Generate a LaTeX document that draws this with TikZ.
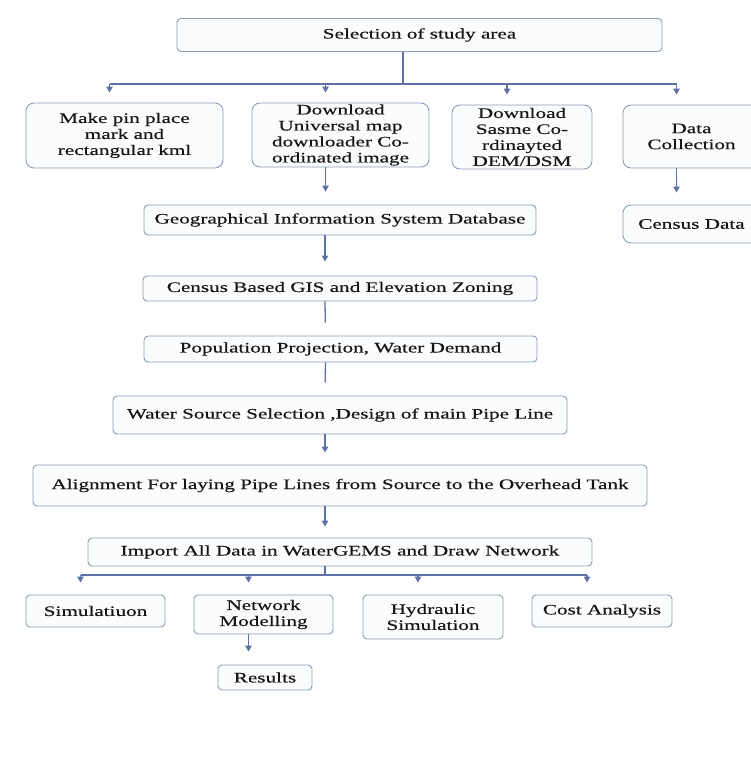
\documentclass[tikz,border=0pt]{standalone}
\usepackage{fontspec}
\setmainfont[FakeStretch=1.46, FakeBold=0.4]{Liberation Serif}
\usetikzlibrary{arrows.meta}

\definecolor{linkblue}{HTML}{5E72A8}
\definecolor{boxline}{HTML}{8D9CB6}
\definecolor{boxfill}{HTML}{FBFCFE}
\definecolor{boxtext}{HTML}{161616}
\def\off{-15pt}

\begin{document}
\begin{tikzpicture}[
		x=1pt, y=-1pt,
		stage/.style 2 args={draw=boxline, line width=0.9pt, fill=boxfill, rounded corners=4pt, text=boxtext, font=\fontsize{14.5}{16}\selectfont, align=center, inner sep=1pt, minimum width=#1, minimum height=#2},
		tallstage/.style 2 args={stage={#1}{#2}, rounded corners=8pt},
		link/.style={draw=linkblue, line width=1.3pt},
		flow/.style={link, -{Triangle[width=6.5pt,length=6pt]}, shorten >=#1},
		flow/.default=12pt,
	]
		\useasboundingbox (0,0) rectangle (750,770);

		\node (sel) [stage={485pt}{33pt}] at (419.5,35) {Selection of study area};

		\node (pin) [tallstage={197pt}{65pt}] at (124.5,135.5) {Make pin place\\mark and\\rectangular kml};
		\node (umd) [tallstage={177pt}{64pt}] at (340.5,135) {Download\\Universal map\\downloader Co-\\ordinated image};
		\node (dem) [tallstage={140pt}{64pt}] at (522,137) {Download\\Sasme Co-\\rdinayted\\DEM/DSM};
		\node (dat) [tallstage={137pt}{63pt}] at (691.5,136.5) {Data\\Collection};
		\node (cen) [tallstage={137pt}{38pt}] at (691.5,224) {Census Data};

		\node (gis) [stage={392pt}{30pt}] at (340,220) {Geographical Information System Database};
		\node (cgis) [stage={394pt}{25pt}] at (340,288.5) {Census Based GIS and Elevation Zoning};
		\node (pop) [stage={393pt}{26pt}] at (340.5,349) {Population Projection, Water Demand};
		\node (wss) [stage={454pt}{38pt}] at (340,415) {Water Source Selection ,Design of main Pipe Line};
		\node (aln) [stage={614pt}{41pt}] at (340,485.5) {Alignment For laying Pipe Lines from Source to the Overhead Tank};
		\node (imp) [stage={504pt}{28pt}] at (340,552) {Import All Data in WaterGEMS and Draw Network};

		\node (sim) [stage={139pt}{32pt}] at (95.5,611) {Simulatiuon};
		\node (net) [stage={139pt}{39pt}] at (263.5,614.5) {Network\\Modelling};
		\node (hyd) [stage={140pt}{44pt}] at (433,617) {Hydraulic\\Simulation};
		\node (cost) [stage={140pt}{32pt}] at (602,611) {Cost Analysis};
		\node (res) [stage={94pt}{25pt}] at (265,677.5) {Results};

		\coordinate (topbus) at ([xshift=-16.5pt]sel.south |- 0,84);
		\coordinate (lowbus) at ([xshift=\off]imp.south |- 0,575);

		\draw[link] ([xshift=-16.5pt]sel.south) -- (topbus);
		\draw[link] ([xshift=\off]pin.north |- topbus) -- ([xshift=\off]dat.north |- topbus);
		\foreach \n in {pin,umd,dem,dat}
			\draw[flow=10pt] ([xshift=\off]\n.north |- topbus) -- ([xshift=\off]\n.north);

		\draw[flow=13pt] ([xshift=\off]umd.south) -- ([xshift=\off]umd.south |- gis.north);
		\draw[flow] ([xshift=\off]dat.south) -- ([xshift=\off]cen.north);
		\draw[flow=14pt] ([xshift=\off]gis.south) -- ([xshift=\off]cgis.north);
		\draw[link, shorten >=13pt] ([xshift=\off]cgis.south) -- ([xshift=\off]pop.north);
		\draw[link, shorten >=13pt] ([xshift=\off]pop.south) -- ([xshift=\off]wss.north);
		\draw[flow] ([xshift=\off]wss.south) -- ([xshift=\off]aln.north);
		\draw[flow=11pt] ([xshift=\off]aln.south) -- ([xshift=\off]imp.north);

		\draw[link] ([xshift=\off]imp.south) -- (lowbus);
		\draw[link] ([xshift=\off]sim.north |- lowbus) -- ([xshift=\off]cost.north |- lowbus);
		\foreach \n in {sim,net,hyd,cost}
			\draw[flow] ([xshift=\off]\n.north |- lowbus) -- ([xshift=\off]\n.north);
		\draw[flow=13pt] ([xshift=\off]net.south) -- ([xshift=\off]net.south |- res.north);
	\end{tikzpicture}
\end{document}
